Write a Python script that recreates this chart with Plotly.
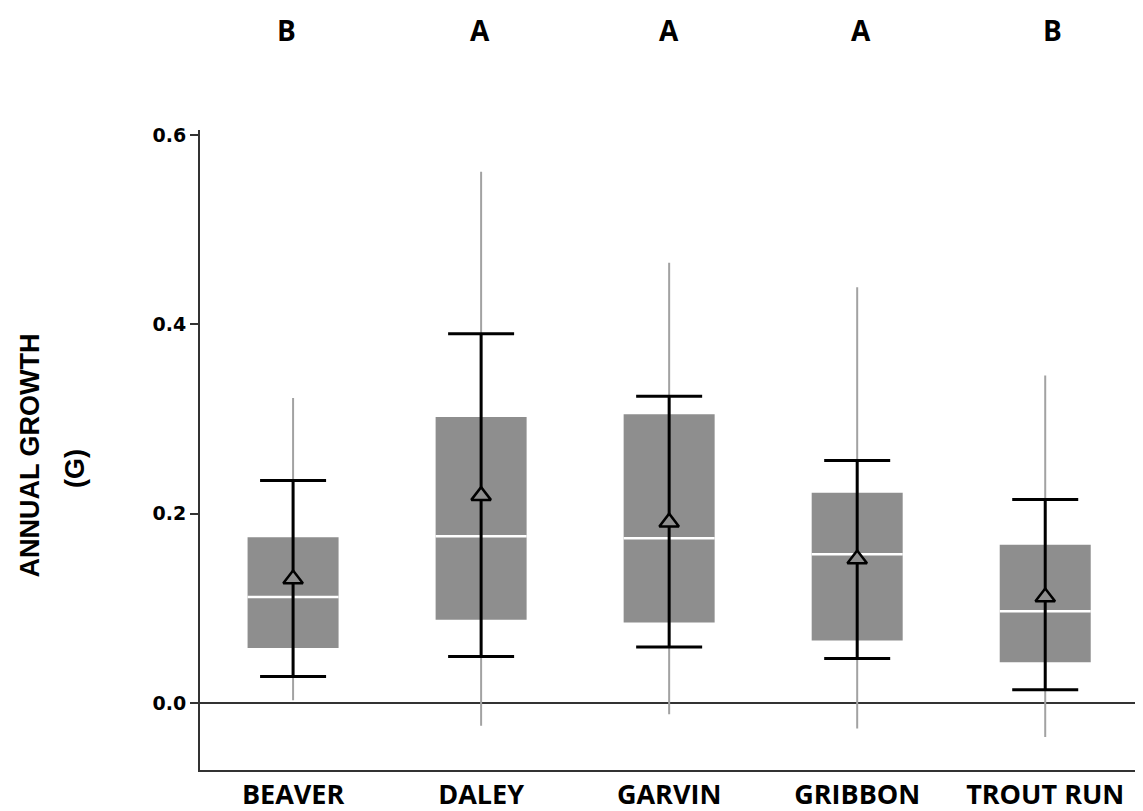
import plotly.graph_objects as go

categories = ["BEAVER", "DALEY", "GARVIN", "GRIBBON", "TROUT RUN"]
letters = ["B", "A", "A", "A", "B"]
whisker_low = [0.003, -0.024, -0.012, -0.027, -0.036]
whisker_high = [0.322, 0.561, 0.465, 0.439, 0.346]
q1 = [0.058, 0.088, 0.085, 0.066, 0.043]
median = [0.112, 0.176, 0.174, 0.157, 0.097]
q3 = [0.175, 0.302, 0.305, 0.222, 0.167]
mean = [0.131, 0.219, 0.191, 0.152, 0.112]
err_low = [0.028, 0.049, 0.059, 0.047, 0.014]
err_high = [0.235, 0.390, 0.324, 0.256, 0.215]
tick_vals = [0.0, 0.2, 0.4, 0.6]
tick_text = ["0.0", "0.2", "0.4", "0.6"]

xs = list(range(len(categories)))
box_w = 0.484

fig = go.Figure()

# full-range whiskers (thin gray)
wx, wy = [], []
for i in xs:
    wx += [i, i, None]
    wy += [whisker_low[i], whisker_high[i], None]
fig.add_trace(go.Scatter(x=wx, y=wy, mode="lines",
                         line=dict(color="#a2a2a2", width=2), hoverinfo="skip"))

# interquartile boxes
fig.add_trace(go.Bar(x=xs, y=[q3[i] - q1[i] for i in xs], base=q1, width=box_w,
                     marker=dict(color="#8e8e8e", line=dict(width=0))))

# medians
mx, my = [], []
for i in xs:
    mx += [i - box_w / 2, i + box_w / 2, None]
    my += [median[i], median[i], None]
fig.add_trace(go.Scatter(x=mx, y=my, mode="lines",
                         line=dict(color="white", width=2.5), hoverinfo="skip"))

# mean with error bars
fig.add_trace(go.Scatter(
    x=xs, y=mean, mode="markers",
    marker=dict(symbol="triangle-up", size=17, color="#8e8e8e",
                line=dict(color="black", width=2.5)),
    error_y=dict(type="data", symmetric=False,
                 array=[err_high[i] - mean[i] for i in xs],
                 arrayminus=[mean[i] - err_low[i] for i in xs],
                 color="black", thickness=3, width=33),
))

annotations = []
shifts = [-7, -1, 0, 4, 7]
for i in xs:
    annotations.append(dict(x=i, y=1.156, xref="x", yref="paper", text=letters[i],
                            showarrow=False, xshift=shifts[i], yanchor="middle",
                            font=dict(family="Open Sans", size=28, color="black",
                                      weight="bold")))
annotations.append(dict(x=-0.180, y=0.492, xref="paper", yref="paper",
                        text="<b>ANNUAL GROWTH</b>", textangle=-90, showarrow=False,
                        xanchor="center", yanchor="middle",
                        font=dict(family="Liberation Sans", size=27, color="black")))
annotations.append(dict(x=-0.1326, y=0.472, xref="paper", yref="paper",
                        text="<b>(G)</b>", textangle=-90, showarrow=False,
                        xanchor="center", yanchor="middle",
                        font=dict(family="Liberation Sans", size=27, color="black")))

fig.update_layout(
    width=1135, height=803,
    margin=dict(l=192, r=0, t=122, b=41),
    plot_bgcolor="white", paper_bgcolor="white",
    showlegend=False,
    annotations=annotations,
    xaxis=dict(range=[-0.495, 4.52], tickvals=xs, ticktext=categories,
               showline=True, linecolor="#333", linewidth=2, showgrid=False,
               zeroline=False, ticks="", automargin=False,
               tickfont=dict(family="Open Sans", size=27, color="black", weight="bold")),
    yaxis=dict(range=[-0.0708, 0.6052], tickvals=tick_vals, ticktext=tick_text,
               showline=True, linecolor="#333", linewidth=2, showgrid=False,
               zeroline=True, zerolinecolor="#333", zerolinewidth=1.5,
               ticks="outside", ticklen=8, tickwidth=1.5, tickcolor="#333",
               automargin=False,
               tickfont=dict(family="DejaVu Sans", size=19, color="black", weight="bold")),
)

fig.write_html("out.html")
